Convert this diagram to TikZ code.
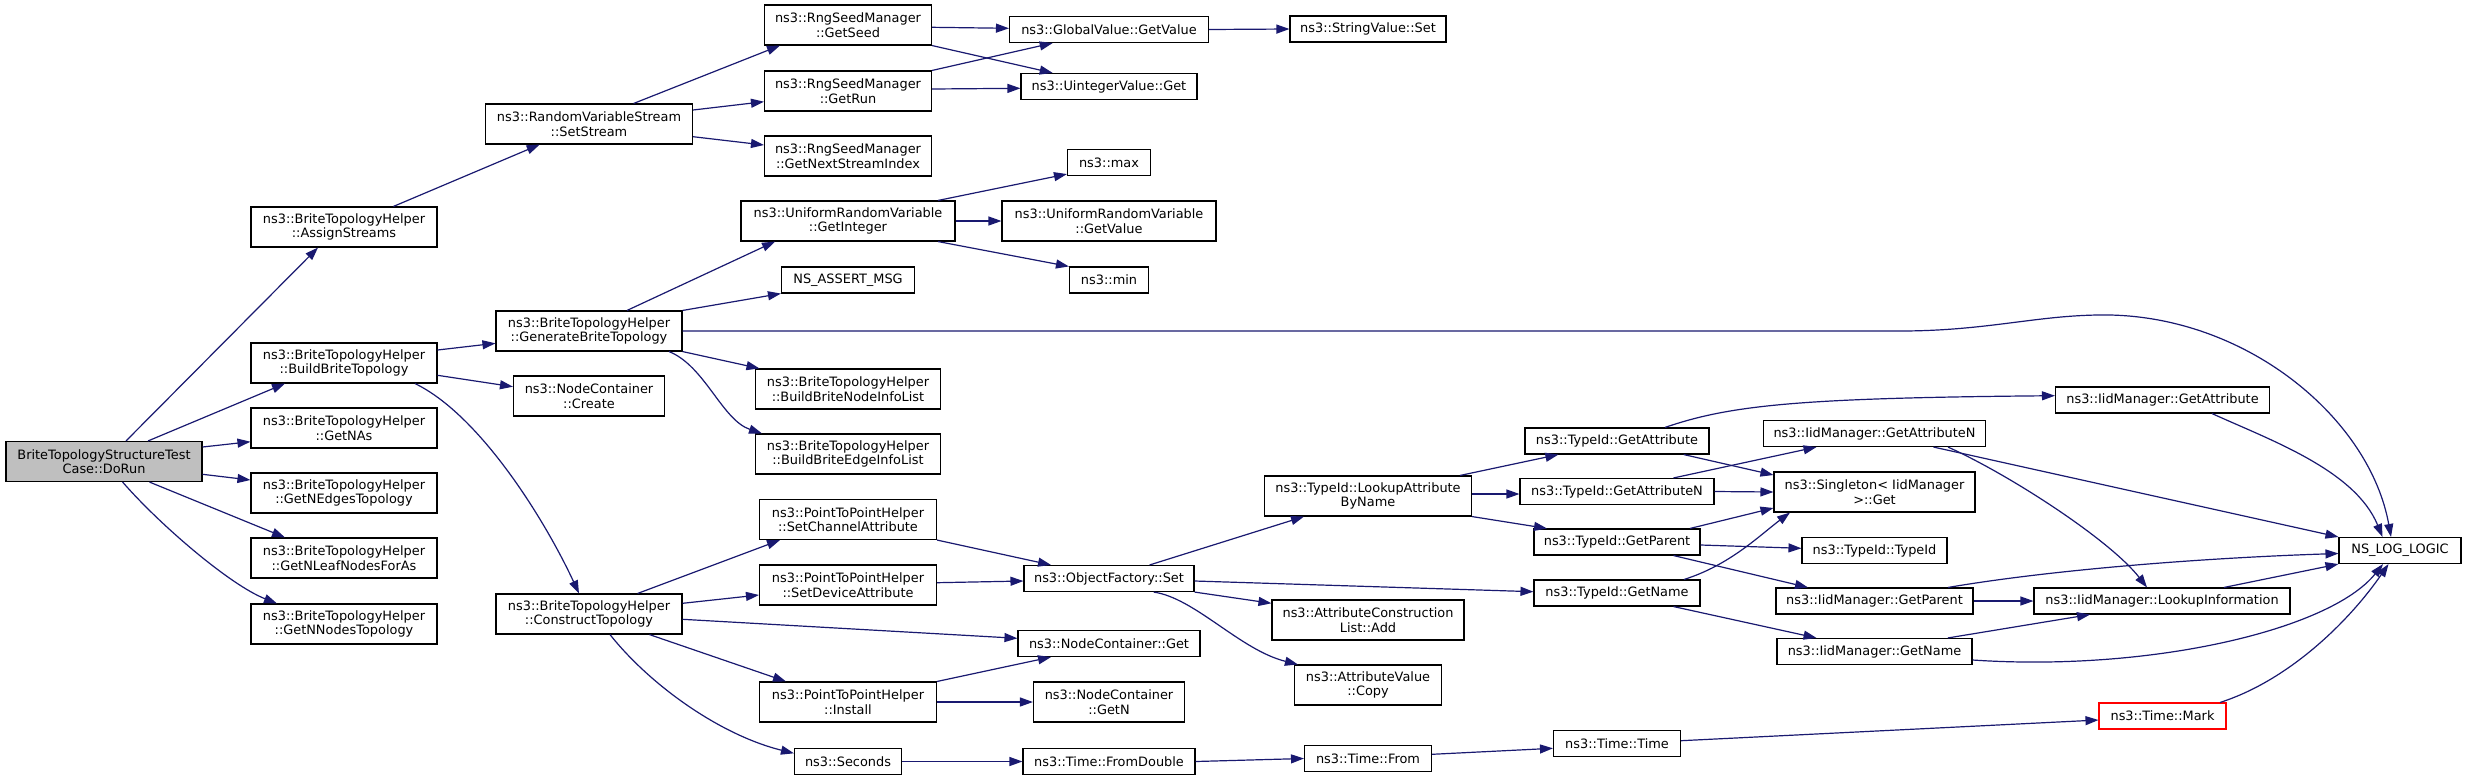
\documentclass[tikz,border=0pt]{standalone}
\usepackage{fontspec}
\newfontfamily\dv{DejaVu Sans}
\usetikzlibrary{arrows.meta,calc}
\definecolor{edgec}{HTML}{191970}
\definecolor{rootfill}{HTML}{BFBFBF}
\begin{document}
\begin{tikzpicture}[x=1pt,y=-1pt,
  box/.style={draw=black, line width=1.1pt, fill=white, inner sep=0pt, align=center,
    font=\dv\fontsize{12.9}{14.5}\selectfont},
  b2/.style={box, minimum height=40pt},
  b1/.style={box, minimum height=26pt},
  e/.style={draw=edgec, line width=1.2pt, -{Triangle[length=13pt,width=9pt]}, fill=none}]
\fill[white] (0,0) rectangle (2467,780);
\useasboundingbox (0,0) rectangle (2467,780);
% column 0
\node[b2,minimum width=196pt,fill=rootfill] (dorun) at (104,461.5) {BriteTopologyStructureTest\\Case::DoRun};
% column 1
\node[b2,minimum width=186pt] (assign) at (344,227) {ns3::BriteTopologyHelper\\::AssignStreams};
\node[b2,minimum width=186pt] (build) at (344,363) {ns3::BriteTopologyHelper\\::BuildBriteTopology};
\node[b2,minimum width=186pt] (getnas) at (344,428) {ns3::BriteTopologyHelper\\::GetNAs};
\node[b2,minimum width=186pt] (getnedges) at (344,493) {ns3::BriteTopologyHelper\\::GetNEdgesTopology};
\node[b2,minimum width=186pt] (getnleaf) at (344,558) {ns3::BriteTopologyHelper\\::GetNLeafNodesForAs};
\node[b2,minimum width=186pt] (getnnodes) at (344,624) {ns3::BriteTopologyHelper\\::GetNNodesTopology};
% column 2
\node[b2,minimum width=207pt] (setstream) at (589,124) {ns3::RandomVariableStream\\::SetStream};
\node[b2,minimum width=186pt] (generate) at (589,331) {ns3::BriteTopologyHelper\\::GenerateBriteTopology};
\node[b2,minimum width=151pt] (create) at (589,396) {ns3::NodeContainer\\::Create};
\node[b2,minimum width=186pt] (construct) at (589,614) {ns3::BriteTopologyHelper\\::ConstructTopology};
% column 3
\node[b2,minimum width=167pt] (getseed) at (848,25) {ns3::RngSeedManager\\::GetSeed};
\node[b2,minimum width=167pt] (getrun) at (848,91) {ns3::RngSeedManager\\::GetRun};
\node[b2,minimum width=167pt] (getnext) at (848,156) {ns3::RngSeedManager\\::GetNextStreamIndex};
\node[b2,minimum width=214pt] (getinteger) at (848,221) {ns3::UniformRandomVariable\\::GetInteger};
\node[b1,minimum width=133pt] (assertmsg) at (848,280) {NS\_ASSERT\_MSG};
\node[b2,minimum width=185pt] (nodeinfo) at (848,389) {ns3::BriteTopologyHelper\\::BuildBriteNodeInfoList};
\node[b2,minimum width=185pt] (edgeinfo) at (848,454) {ns3::BriteTopologyHelper\\::BuildBriteEdgeInfoList};
\node[b2,minimum width=177pt] (setchan) at (848,519.5) {ns3::PointToPointHelper\\::SetChannelAttribute};
\node[b2,minimum width=177pt] (setdev) at (848,585) {ns3::PointToPointHelper\\::SetDeviceAttribute};
\node[b2,minimum width=177pt] (install) at (848,702) {ns3::PointToPointHelper\\::Install};
\node[b1,minimum width=107pt] (seconds) at (848,761.5) {ns3::Seconds};
% column 4
\node[b1,minimum width=199pt] (globalget) at (1109,29.5) {ns3::GlobalValue::GetValue};
\node[b1,minimum width=176pt] (uintget) at (1109,86.5) {ns3::UintegerValue::Get};
\node[b1,minimum width=83pt] (max) at (1109,162.5) {ns3::max};
\node[b2,minimum width=214pt] (urvgetvalue) at (1109,221) {ns3::UniformRandomVariable\\::GetValue};
\node[b1,minimum width=79pt] (min) at (1109,280) {ns3::min};
\node[b1,minimum width=170pt] (ofset) at (1109,578.5) {ns3::ObjectFactory::Set};
\node[b1,minimum width=182pt] (ncget) at (1109,643.5) {ns3::NodeContainer::Get};
\node[b2,minimum width=151pt] (ncgetn) at (1109,702) {ns3::NodeContainer\\::GetN};
\node[b1,minimum width=172pt] (fromdouble) at (1109,761.5) {ns3::Time::FromDouble};
% column 5
\node[b1,minimum width=156pt] (stringset) at (1368,29) {ns3::StringValue::Set};
\node[b2,minimum width=207pt] (lookup) at (1368,496) {ns3::TypeId::LookupAttribute\\ByName};
\node[b2,minimum width=192pt] (acladd) at (1368,620) {ns3::AttributeConstruction\\List::Add};
\node[b2,minimum width=147pt] (avcopy) at (1368,685) {ns3::AttributeValue\\::Copy};
\node[b1,minimum width=127pt] (timefrom) at (1368,758.5) {ns3::Time::From};
% column 6
\node[b1,minimum width=184pt] (tgetattr) at (1617,441) {ns3::TypeId::GetAttribute};
\node[b1,minimum width=194pt] (tgetattrn) at (1617,491.5) {ns3::TypeId::GetAttributeN};
\node[b1,minimum width=166pt] (tgetparent) at (1617,542) {ns3::TypeId::GetParent};
\node[b1,minimum width=166pt] (tgetname) at (1617,593) {ns3::TypeId::GetName};
\node[b1,minimum width=127pt] (timetime) at (1617,743.5) {ns3::Time::Time};
% column 7
\node[b1,minimum width=222pt] (igetattrn) at (1874.5,433.5) {ns3::IidManager::GetAttributeN};
\node[b2,minimum width=201pt] (singleton) at (1874.5,492) {ns3::Singleton< IidManager\\>::Get};
\node[b1,minimum width=145pt] (ttypeid) at (1874.5,550.5) {ns3::TypeId::TypeId};
\node[b1,minimum width=197pt] (igetparent) at (1874.5,601) {ns3::IidManager::GetParent};
\node[b1,minimum width=195pt] (igetname) at (1874.5,651.5) {ns3::IidManager::GetName};
% column 8
\node[b1,minimum width=214pt] (igetattr) at (2162.5,400) {ns3::IidManager::GetAttribute};
\node[b1,minimum width=256pt] (lookupinfo) at (2162,601) {ns3::IidManager::LookupInformation};
\node[b1,minimum width=127pt,draw=red] (timemark) at (2162.5,716) {ns3::Time::Mark};
% column 9
\node[b1,minimum width=122pt] (nslog) at (2400,550.5) {NS\_LOG\_LOGIC};
% edges
\draw[e] ($(dorun.north)+(22,0)$) -- ($(assign.south)+(-26,0)$);
\draw[e] ($(dorun.north)+(44,0)$) -- ($(build.south)+(-59,0)$);
\draw[e] ($(dorun.east)+(0,-14.5)$) -- ($(getnas.west)+(0,13.7)$);
\draw[e] ($(dorun.east)+(0,12.8)$) -- ($(getnedges.west)+(0,-13)$);
\draw[e] ($(dorun.south)+(45.5,0)$) -- ($(getnleaf.north)+(-59,0)$);
\draw[e] ($(dorun.south)+(18.6,0)$) .. controls (160,525) and (230,585) .. ($(getnnodes.north)+(-67,0)$);
\draw[e] ($(assign.north)+(49.4,0)$) -- ($(setstream.south)+(-49.3,0)$);
\draw[e] ($(setstream.north)+(44.6,0)$) -- ($(getseed.south)+(-68,0)$);
\draw[e] ($(setstream.east)+(0,-14)$) -- ($(getrun.west)+(0,10.7)$);
\draw[e] ($(setstream.east)+(0,12.7)$) -- ($(getnext.west)+(0,-11)$);
\draw[e] ($(getseed.east)+(0,2.3)$) -- ($(globalget.west)+(0,-1.2)$);
\draw[e] (getseed.south east) -- ($(uintget.north)+(-56.3,0)$);
\draw[e] (getrun.north east) -- ($(globalget.south)+(-56.3,0)$);
\draw[e] ($(getrun.east)+(0,-2)$) -- ($(uintget.west)+(0,1.8)$);
\draw[e] (globalget.east) -- (stringset.west);
\draw[e] ($(build.east)+(0,-13)$) -- ($(generate.west)+(0,12.3)$);
\draw[e] ($(build.east)+(0,12.3)$) -- ($(create.west)+(0,-9.3)$);
\draw[e] ($(build.south)+(71,0)$) .. controls (480,415) and (545,520) .. ($(construct.north)+(-10,0)$);
\draw[e] ($(generate.north)+(38,0)$) -- ($(getinteger.south)+(-73,0)$);
\draw[e] (generate.north east) -- (assertmsg.south west);
\draw[e] (generate.east) -- (1900,331) .. controls (1990,331) and (2040,314) .. (2110,315) .. controls (2250,318) and (2370,420) .. ($(nslog.north)+(-9,0)$);
\draw[e] (generate.south east) -- ($(nodeinfo.north west)+(4.5,0)$);
\draw[e] ($(generate.south)+(80,0)$) .. controls (705,366) and (722,420) .. ($(edgeinfo.north)+(-86,0)$);
\draw[e] ($(getinteger.north)+(90,0)$) -- ($(max.south west)+(0,-2)$);
\draw[e] (getinteger.east) -- (urvgetvalue.west);
\draw[e] ($(getinteger.south)+(90,0)$) -- (min.north west);
\draw[e] ($(construct.north)+(48.6,0)$) -- ($(setchan.south)+(-68,0)$);
\draw[e] ($(construct.east)+(0,-10.7)$) -- ($(setdev.west)+(0,10)$);
\draw[e] ($(construct.east)+(0,5.3)$) -- ($(ncget.west)+(0,-5.2)$);
\draw[e] ($(construct.south)+(60.4,0)$) -- ($(install.north)+(-62,0)$);
\draw[e] ($(construct.south)+(21,0)$) .. controls (650,685) and (720,735) .. ($(seconds.west)+(0,-8.2)$);
\draw[e] (setchan.south east) -- ($(ofset.north)+(-58,0)$);
\draw[e] ($(setdev.east)+(0,-2.3)$) -- ($(ofset.west)+(0,2.5)$);
\draw[e] (install.north east) -- ($(ncget.south)+(-58,0)$);
\draw[e] (install.east) -- (ncgetn.west);
\draw[e] (seconds.east) -- (fromdouble.west);
\draw[e] ($(ofset.north)+(40.6,0)$) -- ($(lookup.south)+(-64,0)$);
\draw[e] ($(ofset.east)+(0,2.5)$) -- ($(tgetname.west)+(0,-1.3)$);
\draw[e] (ofset.south east) -- ($(acladd.west)+(0,-16.7)$);
\draw[e] ($(ofset.south)+(44.6,0)$) .. controls (1195,598) and (1240,650) .. ($(avcopy.north west)+(4,0)$);
\draw[e] (fromdouble.east) -- (timefrom.west);
\draw[e] ($(timefrom.east)+(0,-4.2)$) -- ($(timetime.west)+(0,4.8)$);
\draw[e] ($(timetime.east)+(0,-2.8)$) -- ($(timemark.west)+(0,4)$);
\draw[e] ($(timemark.north)+(57.5,0)$) .. controls (2290,680) and (2350,620) .. ($(nslog.south)+(-11.5,0)$);
\draw[e] ($(lookup.north)+(92,0)$) -- ($(tgetattr.south)+(-58.6,0)$);
\draw[e] ($(lookup.east)+(0,-2)$) -- ($(tgetattrn.west)+(0,2.5)$);
\draw[e] (lookup.south east) -- ($(tgetparent.north)+(-70,0)$);
\draw[e] ($(tgetattr.north)+(48,0)$) .. controls (1730,405) and (1800,398) .. ($(igetattr.west)+(0,-4.3)$);
\draw[e] ($(tgetattr.south)+(66.7,0)$) -- ($(singleton.west)+(0,-17)$);
\draw[e] ($(tgetattrn.north)+(56.5,0)$) -- ($(igetattrn.south)+(-58,0)$);
\draw[e] (tgetattrn.east) -- (singleton.west);
\draw[e] ($(tgetparent.north)+(73,0)$) -- ($(singleton.west)+(0,16)$);
\draw[e] ($(tgetparent.east)+(0,3)$) -- ($(ttypeid.west)+(0,-2.2)$);
\draw[e] ($(tgetparent.south)+(56.5,0)$) -- ($(igetparent.north)+(-66.5,0)$);
\draw[e] ($(tgetname.north)+(67,0)$) .. controls (1730,565) and (1760,535) .. ($(singleton.south)+(-84.5,0)$);
\draw[e] ($(tgetname.south)+(56.5,0)$) -- ($(igetname.north)+(-58,0)$);
\draw[e] ($(igetattrn.south)+(59,0)$) -- (nslog.north west);
\draw[e] ($(igetattrn.south)+(73.5,0)$) .. controls (2010,475) and (2110,540) .. ($(lookupinfo.north)+(-15,0)$);
\draw[e] ($(igetattr.south)+(49.5,0)$) .. controls (2270,440) and (2355,470) .. ($(nslog.north)+(-17.5,0)$);
\draw[e] ($(igetparent.north)+(73.5,0)$) .. controls (2050,570) and (2200,558) .. ($(nslog.west)+(0,3)$);
\draw[e] (igetparent.east) -- (lookupinfo.west);
\draw[e] ($(igetname.north)+(73.3,0)$) -- ($(lookupinfo.south)+(-72,0)$);
\draw[e] ($(igetname.east)+(0,8.5)$) .. controls (2150,672) and (2330,630) .. ($(nslog.south)+(-17,0)$);
\draw[e] ($(lookupinfo.north)+(62,0)$) -- (nslog.south west);
\end{tikzpicture}
\end{document}
